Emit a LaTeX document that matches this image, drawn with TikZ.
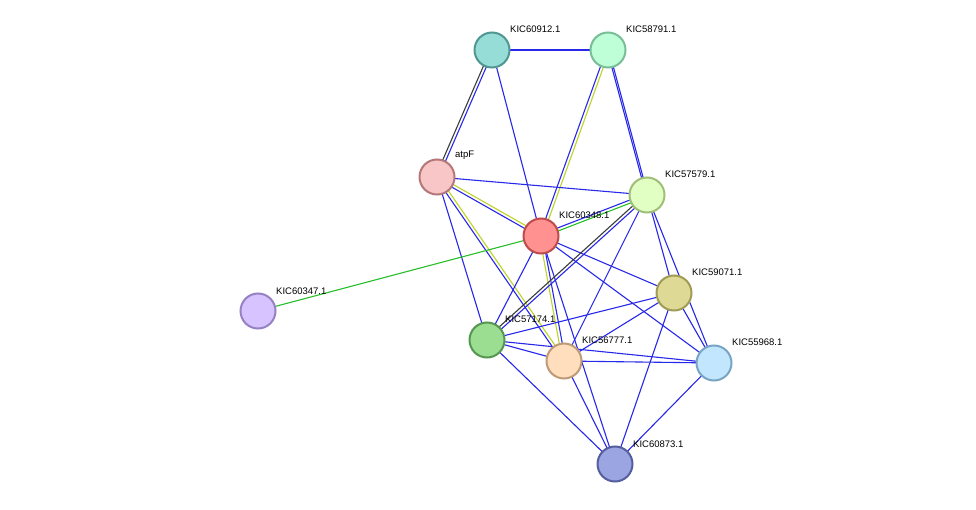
\documentclass[tikz,border=0pt]{standalone}
\usepackage{fontspec}
\setmainfont{Liberation Sans}
\usetikzlibrary{calc}
\definecolor{eb}{RGB}{40,40,235}
\definecolor{ey}{RGB}{190,210,40}
\definecolor{eg}{RGB}{40,190,40}
\definecolor{ek}{RGB}{60,60,60}
\newcommand{\pe}[4]{\draw[#3,line width=1.1pt] ($(#1)!#4!90:(#2)$) -- ($(#2)!#4!-90:(#1)$);}
\begin{document}
\begin{tikzpicture}[x=1pt,y=-1pt,
 prot/.style={circle,minimum size=35pt,inner sep=0pt,line width=2pt},
 lab/.style={font=\fontsize{9.5}{11}\selectfont,anchor=south west,inner sep=1pt}]
\useasboundingbox (0,0) rectangle (976,510);
\fill[white] (0,0) rectangle (976,510);
\coordinate (a) at (492,50);   % 60912
\coordinate (b) at (608,50);   % 58791
\coordinate (f) at (437,177);  % atpF
\coordinate (c) at (647,195);  % 57579
\coordinate (r) at (541,236);  % 60348
\coordinate (p) at (258,311);  % 60347
\coordinate (y) at (674,293);  % 59071
\coordinate (g) at (487,340);  % 57174
\coordinate (o) at (564,361);  % 56777
\coordinate (s) at (714,363);  % 55968
\coordinate (n) at (615,464);  % 60873
% edges
\pe{a}{b}{eb}{0pt}
\pe{a}{f}{ek}{-1.5pt}\pe{a}{f}{eb}{1.5pt}
\pe{a}{r}{eb}{0pt}
\pe{b}{r}{eb}{-1.5pt}\pe{b}{r}{ey}{1.5pt}
\pe{b}{c}{eb}{-0.8pt}\pe{b}{c}{eb}{0.8pt}
\pe{f}{c}{eb}{0pt}
\pe{f}{r}{eb}{-1.5pt}\pe{f}{r}{ey}{1.5pt}
\pe{f}{g}{eb}{0pt}
\pe{f}{o}{eb}{-1.5pt}\pe{f}{o}{ey}{1.5pt}
\pe{r}{c}{eg}{-1.5pt}\pe{r}{c}{eb}{1.5pt}
\pe{r}{p}{eg}{0pt}
\pe{r}{y}{eb}{0pt}
\pe{r}{s}{eb}{0pt}
\pe{r}{g}{eb}{0pt}
\pe{r}{o}{ey}{-1.5pt}\pe{r}{o}{eb}{1.5pt}
\pe{r}{n}{eb}{0pt}
\pe{c}{g}{ek}{-1.5pt}\pe{c}{g}{eb}{1.5pt}
\pe{c}{o}{eb}{0pt}
\pe{c}{y}{eb}{0pt}
\pe{c}{s}{eb}{0pt}
\pe{y}{g}{eb}{0pt}
\pe{y}{o}{eb}{0pt}
\pe{y}{n}{eb}{0pt}
\pe{y}{s}{eb}{0pt}
\pe{g}{o}{eb}{0pt}
\pe{g}{s}{eb}{0pt}
\pe{g}{n}{eb}{0pt}
\pe{o}{s}{eb}{0pt}
\pe{o}{n}{eb}{0pt}
\pe{s}{n}{eb}{0pt}
% nodes
\node[prot,fill={rgb,255:red,150;green,220;blue,215},draw={rgb,255:red,80;green,150;blue,145}] (na) at (a) {};
\node[prot,fill={rgb,255:red,190;green,255;blue,215},draw={rgb,255:red,120;green,190;blue,150}] (nb) at (b) {};
\node[prot,fill={rgb,255:red,248;green,198;blue,198},draw={rgb,255:red,180;green,120;blue,120}] (nf) at (f) {};
\node[prot,fill={rgb,255:red,225;green,255;blue,195},draw={rgb,255:red,160;green,190;blue,120}] (nc) at (c) {};
\node[prot,fill={rgb,255:red,255;green,145;blue,145},draw={rgb,255:red,190;green,75;blue,75}] (nr) at (r) {};
\node[prot,fill={rgb,255:red,215;green,195;blue,255},draw={rgb,255:red,150;green,130;blue,195}] (np) at (p) {};
\node[prot,fill={rgb,255:red,222;green,218;blue,150},draw={rgb,255:red,160;green,155;blue,85}] (ny) at (y) {};
\node[prot,fill={rgb,255:red,155;green,222;blue,145},draw={rgb,255:red,85;green,150;blue,80}] (ng) at (g) {};
\node[prot,fill={rgb,255:red,255;green,222;blue,190},draw={rgb,255:red,190;green,155;blue,120}] (no) at (o) {};
\node[prot,fill={rgb,255:red,195;green,230;blue,255},draw={rgb,255:red,120;green,165;blue,195}] (ns) at (s) {};
\node[prot,fill={rgb,255:red,155;green,165;blue,225},draw={rgb,255:red,85;green,95;blue,160}] (nn) at (n) {};
% labels
\node[lab] (la) at (509,34) {KIC60912.1};
\node[lab] (lb) at (625,34) {KIC58791.1};
\node[lab] (lf) at (454,161) {atpF};
\node[lab] (lc) at (664,179) {KIC57579.1};
\node[lab] (lr) at (558,220) {KIC60348.1};
\node[lab] (lp) at (275,296) {KIC60347.1};
\node[lab] (ly) at (691,277) {KIC59071.1};
\node[lab] (lg) at (504,324) {KIC57174.1};
\node[lab] (lo) at (581,345) {KIC56777.1};
\node[lab] (ls) at (731,347) {KIC55968.1};
\node[lab] (ln) at (632,449) {KIC60873.1};
\end{tikzpicture}
\end{document}
